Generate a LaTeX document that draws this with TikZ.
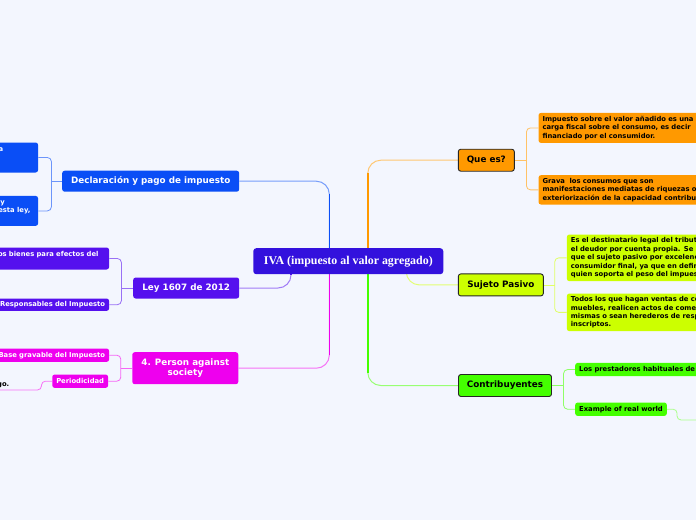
\documentclass[tikz,border=0pt]{standalone}
\usepackage{fontspec}
\setsansfont{DejaVu Sans}
\newfontfamily\ivafont{Liberation Serif}
\usetikzlibrary{calc}
\usetikzlibrary{backgrounds}
\definecolor{paper}{HTML}{F3F6FE}
\definecolor{ivablue}{HTML}{3311DD}
\definecolor{declblue}{HTML}{0A4EF6}
\definecolor{leyviolet}{HTML}{5510EE}
\definecolor{personpink}{HTML}{EE00EE}
\definecolor{queorange}{HTML}{FF9900}
\definecolor{sujetolime}{HTML}{CCFF00}
\definecolor{contribgreen}{HTML}{44FF00}
\tikzset{every picture/.style={/utils/exec={\sffamily\bfseries}},
  topic/.style={rounded corners=2.5pt, inner sep=0pt, minimum height=21pt, align=center, font=\fontsize{8.8}{10.7}\selectfont},
  framed/.style={draw=black!85, line width=0.9pt},
  leaf/.style={rounded corners=2.5pt, inner xsep=4pt, inner ysep=0pt, font=\fontsize{6.8}{8.4}\selectfont},
  leafright/.style={leaf, anchor=north west, align=left, text width=230pt},
  leafleft/.style={leaf, anchor=north east, align=right, text width=150pt, text=white},
  trunk/.style={line width=1pt, rounded corners=13pt},
  twig/.style={line width=0.8pt, rounded corners=4pt}}

\begin{document}
\begin{tikzpicture}[x=1pt, y=-1pt]
  \clip (0,0) rectangle (696,520);

  % central topic
  \node [fill=ivablue, text=white, rounded corners=3pt, minimum width=190pt, minimum height=26pt, font=\ivafont\bfseries\fontsize{11.9}{13}\selectfont] (iva) at (348.3,261.2) {IVA (impuesto al valor agregado)};

  % main topics
  \node [topic, fill=declblue, text=white, minimum width=177pt] (decl) at (150.7,181.2) {Declaración y pago de impuesto};
  \node [topic, fill=leyviolet, text=white, minimum width=106pt] (ley) at (186.2,288) {Ley 1607 de 2012};
  \node [topic, fill=personpink, text=white, minimum width=106pt, minimum height=32pt] (person) at (185.3,368.2) {4. Person against\\society};
  \node [topic, framed, fill=queorange, minimum width=56pt, minimum height=22pt] (que) at (486.3,160.2) {Que es?};
  \node [topic, framed, fill=sujetolime, minimum width=85pt, minimum height=22pt] (sujeto) at (500.8,284.9) {Sujeto Pasivo};
  \node [topic, framed, fill=contribgreen, minimum width=93pt, minimum height=22pt] (contrib) at (505,385.5) {Contribuyentes};

  % leaves on the right
  \node [leafright, fill=queorange, minimum height=30pt] (q1) at (538.3,112.7) {Impuesto sobre el valor añadido es una\\carga fiscal sobre el consumo, es decir\\financiado por el consumidor.};
  \node [leafright, fill=queorange, minimum height=29.3pt] (q2) at (538.3,175) {Grava\ \ los consumos que son\\manifestaciones mediatas de riquezas o\\exteriorización de la capacidad contributiva};
  \node [leafright, fill=sujetolime, minimum height=46.7pt] (s1) at (566.7,234.3) {Es el destinatario legal del tributo\\el deudor por cuenta propia. Se\\que el sujeto pasivo por excelencia\\consumidor final, ya que en definitiva\\quien soporta el peso del impuesto};
  \node [leafright, fill=sujetolime, minimum height=37.7pt] (s2) at (566.7,293.3) {Todos los que hagan ventas de cosas\\muebles, realicen actos de comercio\\mismas o sean herederos de responsables\\inscriptos.};
  \node [leafright, fill=contribgreen, minimum height=13.3pt] (c1) at (575,362.7) {Los prestadores habituales de servicios};
  \node [leaf, anchor=north west, fill=contribgreen, minimum height=13.4pt] (c2) at (575,402.3) {Example of real world};

  % leaves on the left
  \node [leafleft, fill=declblue, minimum height=30pt, inner xsep=7.6pt] (d1) at (38.3,142.3) {a\rule{27.4pt}{0pt}\\\mbox{}\\\mbox{}};
  \node [leafleft, fill=declblue, minimum height=30pt, inner xsep=7.6pt] (d2) at (38.3,195.7) {y\rule{25.7pt}{0pt}\\esta ley,\\\mbox{}};
  \node [leafleft, fill=leyviolet, minimum height=22pt, inner xsep=10.6pt] (l1) at (109.3,247.3) {os bienes para efectos del\\\mbox{}};
  \node [leafleft, fill=leyviolet, minimum height=12.4pt] (l2) at (109.3,298.3) {Responsables del Impuesto};
  \node [leafleft, fill=personpink, minimum height=13.4pt] (p1) at (109.3,348.3) {Base gravable del Impuesto};
  \node [leaf, anchor=north east, text=white, fill=personpink, minimum height=13.4pt] (p2) at (108.3,374.3) {Periodicidad};
  \node [anchor=base east, inner sep=0pt, font=\fontsize{6.8}{8}\selectfont] (go) at (9.5,386.5) {go.};
  \coordinate (goend) at (-10,390);
  \coordinate (exend) at (710,420);

  \begin{scope}[on background layer]
    \fill [paper] (0,0) rectangle (696,520);
    % branches from the central topic
    \foreach \b/\c/\dx/\side in {decl/declblue/-19/north, ley/leyviolet/-57.3/south, person/personpink/-19/south, que/queorange/19.5/north, sujeto/sujetolime/58/south, contrib/contribgreen/19.5/south} {
      \path ([xshift=\dx]iva.\side) coordinate (s\b);
      \draw [trunk, \c!55] (s\b) |- (\b);
      \draw [\c, line width=1.6pt, shorten >=13pt] (s\b) -- (s\b |- \b);
    }
    % brackets to the leaves
    \foreach \p/\side/\dx/\c/\one/\two in {decl/west/-10.6/declblue/d1/d2, ley/west/-11.6/leyviolet/l1/l2, person/west/-11.3/personpink/p1/p2, que/east/11.7/queorange/q1/q2, sujeto/east/11/sujetolime/s1/s2, contrib/east/11.6/contribgreen/c1/c2} {
      \path ([xshift=\dx]\p.\side) coordinate (j\p);
      \draw [twig, \c!60] (\p.\side) -- (j\p);
      \draw [twig, \c!60] (j\p) |- (\one);
      \draw [twig, \c!60] (j\p) |- (\two);
    }
    \draw [twig, personpink!55] (p2.west) -- ++(-10.6,0) |- (goend);
    \draw [twig, contribgreen!45] (c2.east) -- ++(10,0) |- (exend);
  \end{scope}
\end{tikzpicture}
\end{document}
